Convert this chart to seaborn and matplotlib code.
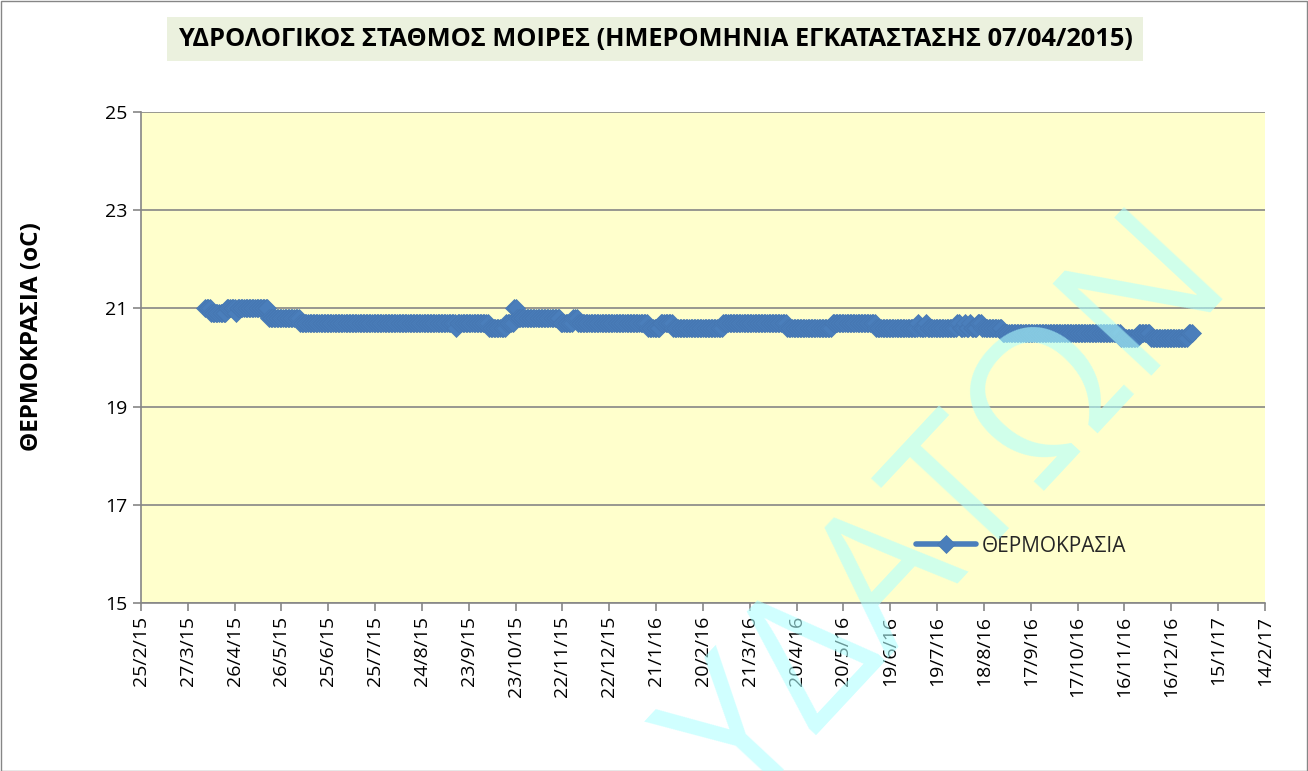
import numpy as np
import pandas as pd
import matplotlib
matplotlib.use("Agg")
import matplotlib.pyplot as plt
from matplotlib.patches import Rectangle
import seaborn as sns

# ---------------- data ----------------
title = "ΥΔΡΟΛΟΓΙΚΟΣ ΣΤΑΘΜΟΣ ΜΟΙΡΕΣ (ΗΜΕΡΟΜΗΝΙΑ ΕΓΚΑΤΑΣΤΑΣΗΣ 07/04/2015)"
y_label = "ΘΕΡΜΟΚΡΑΣΙΑ (oC)"
series_name = "ΘΕΡΜΟΚΡΑΣΙΑ"
watermark = "ΥΔΑΤΩΝ"

# daily readings given as runs: each value holds from its start date until the next run starts
run_start = [
    "2015-04-07", "2015-04-11", "2015-04-21", "2015-04-27", "2015-04-28",
    "2015-05-18", "2015-06-07", "2015-09-15", "2015-09-16", "2015-10-06",
    "2015-10-17", "2015-10-22", "2015-10-24", "2015-11-21", "2015-11-29",
    "2015-12-02", "2016-01-16", "2016-01-24", "2016-02-01", "2016-03-04",
    "2016-04-14", "2016-05-13", "2016-06-10", "2016-07-07", "2016-07-08",
    "2016-07-12", "2016-07-13", "2016-08-01", "2016-08-03", "2016-08-06",
    "2016-08-07", "2016-08-09", "2016-08-10", "2016-08-14", "2016-08-17",
    "2016-08-30", "2016-11-14", "2016-11-25", "2016-12-03", "2016-12-27",
]
run_value = [
    21.0, 20.9, 21.0, 20.9, 21.0,
    20.8, 20.7, 20.6, 20.7, 20.6,
    20.7, 21.0, 20.8, 20.7, 20.8,
    20.7, 20.6, 20.7, 20.6, 20.7,
    20.6, 20.7, 20.6, 20.7, 20.6,
    20.7, 20.6, 20.7, 20.6, 20.7,
    20.6, 20.7, 20.6, 20.7, 20.6,
    20.5, 20.4, 20.5, 20.4, 20.5,
]
last_day = "2016-12-29"

y_ticks = [15, 17, 19, 21, 23, 25]
x_first_tick = "2015-02-25"
x_last_tick = "2017-02-14"
tick_step_days = 30

# ---------------- build table ----------------
starts = pd.to_datetime(run_start)
ends = list(starts[1:] - pd.Timedelta(days=1)) + [pd.Timestamp(last_day)]
rows = []
for s, e, v in zip(starts, ends, run_value):
    for d in pd.date_range(s, e, freq="D"):
        rows.append((d, v))
df = pd.DataFrame(rows, columns=["date", "temp"])

# ---------------- style ----------------
sns.set_theme(style="white")
plt.rcParams["font.family"] = ["Open Sans", "DejaVu Sans"]

W, H = 1308, 771
BLUE = "#4A7EBB"
GRAY = "#868686"

fig = plt.figure(figsize=(W / 100, H / 100), dpi=100)
fig.patch.set_facecolor("white")

ax = fig.add_axes([141 / W, 1 - 603 / H, (1265 - 141) / W, (603 - 112) / H])
ax.set_facecolor("#FFFFCC")

sns.lineplot(data=df, x="date", y="temp", ax=ax, color=BLUE, linewidth=4.0,
             marker="D", markersize=9.5, markeredgecolor="#4677B2",
             markeredgewidth=0.5, label=series_name, estimator=None)

ax.set_ylim(15, 25)
ax.set_yticks(y_ticks)
ax.set_yticklabels([str(t) for t in y_ticks])
x0 = pd.Timestamp(x_first_tick)
x1 = pd.Timestamp(x_last_tick)
ticks = pd.date_range(x0, x1, freq=f"{tick_step_days}D")
ax.set_xlim(x0, x1)
ax.set_xticks(ticks)
ax.set_xticklabels([f"{d.day}/{d.month}/{d.year % 100}" for d in ticks], rotation=90)

ax.set_xlabel("")
ax.set_ylabel("")
ax.yaxis.grid(True, color=GRAY, linewidth=1.2)
ax.xaxis.grid(False)
ax.set_axisbelow(True)
for side in ["top", "right"]:
    ax.spines[side].set_visible(False)
for side in ["left", "bottom"]:
    ax.spines[side].set_color(GRAY)
    ax.spines[side].set_linewidth(1.2)
ax.tick_params(axis="both", which="major", direction="out", length=6, width=1.2,
               color=GRAY, labelsize=14, labelcolor="black",
               bottom=True, left=True)
ax.tick_params(axis="x", pad=3)
ax.tick_params(axis="y", pad=4)

leg = ax.legend(loc="center left", bbox_to_anchor=(916 / W, 1 - 546 / H),
                bbox_transform=fig.transFigure, frameon=False, borderpad=0,
                borderaxespad=0, handlelength=2.9, handletextpad=0.25,
                fontsize=15, numpoints=1)

# figure border
fig.patches.append(Rectangle((0.5 / W, 0.5 / H), (W - 1.5) / W, (H - 1.5) / H,
                             transform=fig.transFigure, facecolor="none",
                             edgecolor=GRAY, linewidth=1.0, zorder=0))
# title box
fig.patches.append(Rectangle((167 / W, 1 - 61 / H), (1143 - 167) / W, 44 / H,
                             transform=fig.transFigure, facecolor="#EBF1DE",
                             edgecolor="none", zorder=1))
t_title = fig.text(655 / W, 1 - 40 / H, title, ha="center", va="center",
                   fontsize=16, fontweight="bold", color="black", zorder=2)
t_ylab = fig.text(32 / W, 1 - 337 / H, y_label, ha="center", va="center",
                  rotation=90, fontsize=14, fontweight="bold", color="black")

renderer = fig.canvas.get_renderer()


def fit(t, target, use_w=True):
    bb = t.get_window_extent(renderer)
    cur = bb.width if use_w else bb.height
    t.set_fontsize(t.get_fontsize() * target / cur)


fit(t_title, 958, True)
fit(t_ylab, 230, False)

# watermark (partly outside the figure, as in the source)
fig.text(1236 / W, 1 - 286 / H, watermark, rotation=47, rotation_mode="anchor",
         ha="right", va="baseline", fontsize=135, color="#B0FFFF", alpha=0.6,
         zorder=10)

fig.savefig("out.png", dpi=100)
